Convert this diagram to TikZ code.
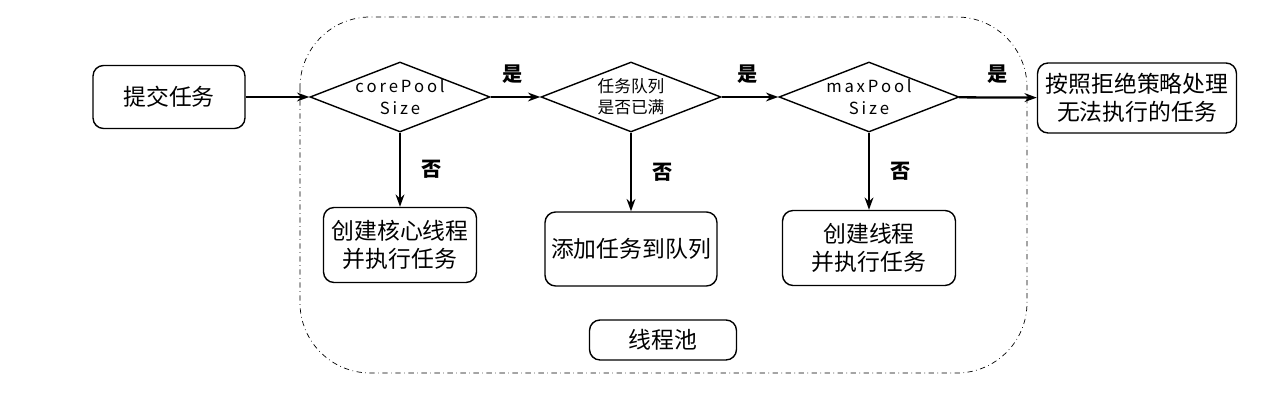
\documentclass[tikz,border=0pt]{standalone}
\usepackage{fontspec}
\setmainfont{Noto Sans CJK SC}
\usetikzlibrary{shapes.geometric,arrows.meta}
\begin{document}
\begin{tikzpicture}[x=0.02cm,y=-0.02cm,
 box/.style={draw,thick,rounded corners=6pt,align=center,font=\fontsize{13}{16}\selectfont,inner sep=0pt},
 dia/.style={draw,thick,diamond,aspect=2.57,minimum width=3.6cm,minimum height=1.4cm,inner sep=0pt,align=center,font=\fontsize{9.5}{12}\selectfont},
 arr/.style={-{Stealth[length=7pt,width=5pt]},line width=1.3pt},
 lab/.style={font=\fontsize{11.5}{13}\selectfont\bfseries}]
\useasboundingbox (0,0) rectangle (1265,404);
\draw[thin,dash dot,rounded corners=40pt] (300,17) rectangle (1027,373);
\node[box,minimum width=3.04cm,minimum height=1.26cm] (submit) at (169,97) {提交任务};
\node[dia] (d1) at (400,97) {c\,o\,r\,e\,P\,o\,o\,l\\S\,i\,z\,e};
\node[dia] (d2) at (631,97) {任务队列\\是否已满};
\node[dia] (d3) at (869,97) {m\,a\,x\,P\,o\,o\,l\\S\,i\,z\,e};
\node[box,minimum width=3.98cm,minimum height=1.4cm] (rej) at (1137,98) {按照拒绝策略处理\\无法执行的任务};
\node[box,minimum width=3.06cm,minimum height=1.5cm] (b1) at (400,245) {创建核心线程\\并执行任务};
\node[box,minimum width=3.44cm,minimum height=1.48cm] (b2) at (631,249) {添加任务到队列};
\node[box,minimum width=3.46cm,minimum height=1.5cm] (b3) at (869,248) {创建线程\\并执行任务};
\node[box,minimum width=2.94cm,minimum height=0.8cm] (pool) at (663,340) {线程池};
\draw[arr] (submit) -- (d1);
\draw[arr] (d1) -- node[lab,above=4pt,pos=0.45]{是} (d2);
\draw[arr] (d2) -- node[lab,above=4pt,pos=0.45]{是} (d3);
\draw[arr] (d3) -- node[lab,above=4pt,pos=0.5]{是} (rej);
\draw[arr] (d1) -- node[lab,right=8pt]{否} (b1);
\draw[arr] (d2) -- node[lab,right=8pt]{否} (b2);
\draw[arr] (d3) -- node[lab,right=8pt]{否} (b3);
\end{tikzpicture}
\end{document}
